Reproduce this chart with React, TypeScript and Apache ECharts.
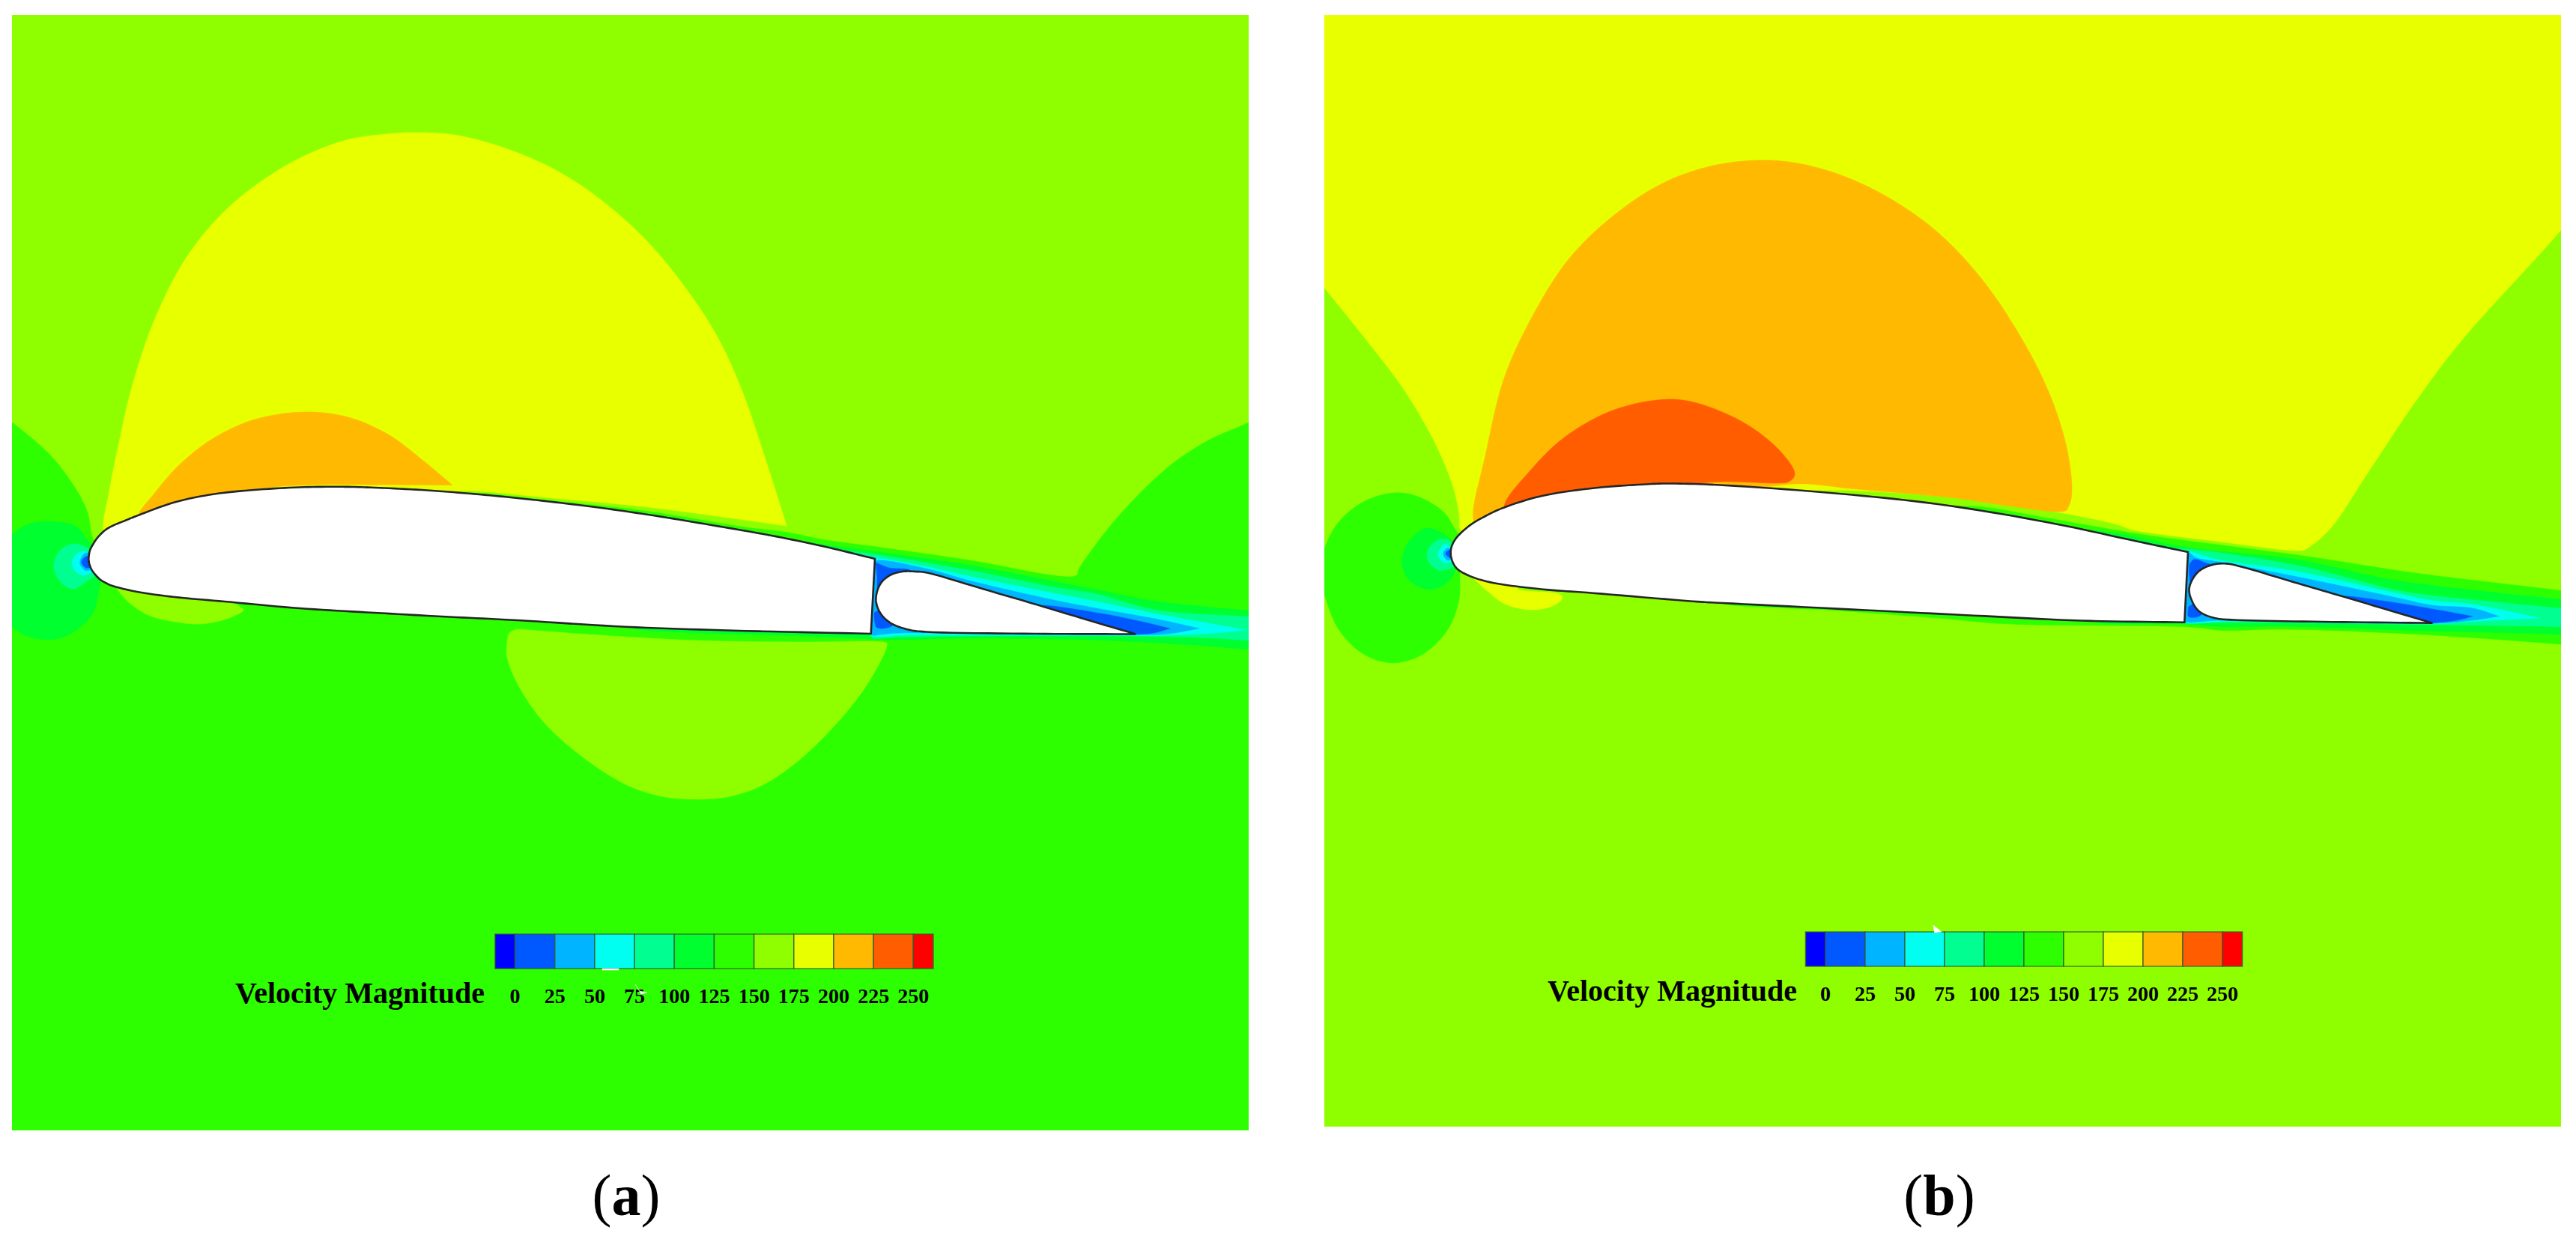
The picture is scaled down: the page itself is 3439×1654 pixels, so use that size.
import React, { useEffect, useRef } from "react";
import * as echarts from "echarts";

// Velocity colour levels (index = contour level)
const levelColors = ["#0000ff", "#0058ff", "#00b4ff", "#00fff0", "#00ff90", "#00ff2f", "#2eff00", "#8fff00", "#e8ff00", "#ffb900", "#ff5d00", "#ff0000"];
const tickValues = [0, 25, 50, 75, 100, 125, 150, 175, 200, 225, 250];
const barEdges = [-12.5, 0, 25, 50, 75, 100, 125, 150, 175, 200, 225, 250, 262.5];
const legendTitle = "Velocity Magnitude";

type P = number[];
// A repeated point marks a sharp corner of the contour.
const fullRectA: P[] = [[-40, -40], [-40, -40], [1720, -40], [1720, -40], [1720, 1560], [1720, 1560], [-40, 1560], [-40, 1560]];
const fullRectB: P[] = [[1720, -40], [1720, -40], [3470, -40], [3470, -40], [3470, 1560], [3470, 1560], [1720, 1560], [1720, 1560]];

// ---------- panel (a) contours ----------
const limeA: P[] = [[135, 735], [135, 735], [124, 717], [117, 683], [100, 650], [67, 607], [16, 563], [-40, 520], [-40, 520], [-40, -40], [-40, -40], [1720, -40], [1720, -40], [1720, 538], [1667, 563.6], [1612, 588], [1557, 625], [1491, 691], [1441, 757], [1436, 768], [1402, 767], [1298, 748], [1174, 730], [1100, 720], [1050, 710], [993, 703], [865, 682], [738, 668], [640, 658], [610, 660], [610, 660]];
const yellowA: P[] = [[150, 722], [150, 722], [138, 709], [146, 655], [158, 595], [176, 517], [205, 430], [248, 345], [305, 277], [380, 222], [455, 189], [515, 179], [560, 177], [612, 181], [675, 198], [740, 226], [800, 265], [860, 318], [912, 380], [958, 450], [992, 525], [1017, 598], [1037, 660], [1050, 702], [1050, 702], [993, 694], [865, 677], [738, 665], [620, 655], [600, 660], [600, 660]];
const orangeA: P[] = [[195, 700], [195, 700], [185, 688], [205, 660], [240, 620], [285, 585], [340, 560], [406, 550], [465, 557], [520, 581], [565, 615], [604, 647.5], [604, 647.5], [500, 647], [420, 647], [350, 652], [300, 665], [300, 665]];
const lowerLobeA: P[] = [[690, 840], [690, 840], [680, 845], [677, 858], [677, 877], [691, 913], [725, 963], [777, 1010], [835, 1047], [883, 1063], [930, 1067], [975, 1063], [1020, 1047], [1070, 1012], [1122, 960], [1160, 910], [1184, 862], [1179, 857], [1074, 857], [930.6, 855], [787, 847], [700, 840.5], [690, 840]];
const noseLobeA: P[] = [[150, 775], [150, 775], [157, 787], [173, 805], [200, 822], [233, 830], [267, 833], [300, 827], [325, 815], [320, 810], [300, 798], [300, 798]];
const ringA5: P[] = [[160, 750], [160, 750], [123, 727], [100, 702], [63, 696], [37, 700], [16, 713], [-20, 740], [-20, 740], [-20, 820], [-20, 820], [16, 837], [33, 848], [63, 854], [93, 847], [123, 820], [131.7, 790], [135, 770], [135, 770]];
const ringA4: P[] = [[135, 750], [135, 750], [116.7, 731.7], [98, 726], [80, 735], [71.7, 755], [80, 776], [98, 786], [120, 773], [135, 765], [135, 765]];
const ringA3: P[] = [[130, 750], [130, 750], [113, 736], [101, 741], [96, 751.7], [101, 763], [113, 768], [130, 760], [130, 760]];
const ringA2: P[] = [[130, 745], [130, 745], [115, 738], [109, 744], [106.7, 751.7], [109, 757], [115, 761.7], [130, 757], [130, 757]];
const ringA1: P[] = [[130, 745], [130, 745], [115, 743], [109, 750], [115, 758], [130, 755], [130, 755]];
const band5A: P[] = [[720, 672], [720, 672], [865, 686], [993, 708], [1100, 727], [1174, 737], [1298, 755], [1402, 775], [1464, 787], [1547, 803], [1720, 820], [1720, 820], [1720, 875], [1720, 875], [1667, 867], [1480, 855], [1300, 852], [1190, 854], [1100, 850], [850, 840], [850, 835], [850, 835]];
const band4A: P[] = [[960, 708], [960, 708], [1100, 732], [1174, 741], [1298, 762], [1402, 783], [1464, 793], [1547, 815], [1667, 823], [1720, 826], [1720, 826], [1720, 858], [1720, 858], [1667, 855], [1600, 851], [1480, 849], [1300, 849], [1190, 851], [1165, 852], [1160, 840], [1160, 840]];
const band3A: P[] = [[1130, 745], [1130, 745], [1168, 744], [1174, 745], [1240, 757], [1298, 770], [1402, 791], [1464, 803], [1547, 820], [1664, 841], [1664, 841], [1610, 846], [1560, 848], [1516, 848.5], [1300, 848], [1210, 848], [1180, 850], [1165, 849], [1150, 840], [1150, 840]];
const band2A: P[] = [[1160, 755], [1160, 755], [1174, 748], [1240, 760], [1298, 776], [1402, 800], [1464, 812], [1547, 827], [1601, 839], [1601, 839], [1560, 846], [1516, 847.5], [1400, 846], [1250, 845], [1200, 845], [1175, 847], [1164, 847], [1155, 820], [1155, 820]];
const band1A: P[] = [[1450, 838], [1450, 838], [1390, 809], [1464, 818], [1520, 829], [1562, 839], [1562, 839], [1540, 845], [1516, 847], [1516, 847]];
const gapTopA: P[] = [[1169, 751], [1169, 751], [1187, 758], [1216, 762], [1216, 780], [1216, 780], [1178, 795], [1178, 795], [1172, 790], [1171, 770]];
const gapLowA: P[] = [[1167, 818], [1167, 818], [1168, 832], [1171, 838], [1185, 838], [1200, 830], [1200, 830], [1180, 810], [1180, 810]];
const mainA: P[] = [[1168, 746], [1168, 746], [1100, 729.5], [1030, 715], [950, 701], [865, 687], [787, 676], [710, 667], [640, 660], [570, 654.5], [500, 651], [457, 649.8], [400, 650.5], [333, 654.5], [283, 660], [233, 670.5], [185, 687.7], [167, 695], [150, 702], [140, 708], [130, 718], [124, 727], [120, 735], [118.3, 747], [120, 755], [124, 763], [133, 773], [142, 778.5], [150, 782], [183, 790], [233, 797], [300, 803], [400, 812], [500, 818], [600, 823.5], [691, 828], [835, 836.7], [978.5, 841.7], [1162.7, 846], [1162.7, 846]];
const flapA: P[] = [[1516, 846.5], [1516, 846.5], [1450, 827], [1380, 806], [1310, 785.5], [1240, 765], [1222, 763], [1205, 763], [1188, 768], [1175, 780], [1169.4, 800], [1175, 818], [1188, 831], [1207, 839], [1236.6, 843.5], [1381.7, 846], [1516, 846.5], [1516, 846.5]];

// ---------- panel (b) contours ----------
const yellowB: P[] = [[1965, 715], [1965, 715], [1950, 707], [1948, 687], [1940, 650], [1920, 600], [1893, 550], [1860, 500], [1768, 384], [1720, 325], [1720, 325], [1720, -40], [1720, -40], [3470, -40], [3470, -40], [3470, 240], [3470, 240], [3419, 307], [3290, 450], [3224, 537], [3158, 636], [3114, 702], [3083, 730], [3068, 735], [2963, 723], [2850, 708], [2826, 700], [2754.5, 685], [2640, 668], [2587, 662], [2480, 655], [2400, 655], [2400, 655]];
const orangeB: P[] = [[1985, 705], [1985, 705], [1967, 693], [1983, 608], [2008, 505], [2047, 420], [2095, 345], [2155, 287], [2219, 245], [2283, 222], [2346, 214], [2400, 218], [2461, 235], [2525, 266], [2589, 312], [2650, 378], [2703, 459], [2737, 528], [2758, 593], [2766, 650], [2762, 675], [2751, 683], [2601.5, 664], [2474, 652.6], [2397, 646], [2300, 660], [2300, 660]];
const redB: P[] = [[2050, 690], [2050, 690], [2008.4, 677.5], [2046.7, 624], [2091, 582], [2150, 549], [2212.5, 534], [2257, 536], [2314.5, 557], [2359, 585.7], [2388, 616], [2396, 633.5], [2388, 643], [2372, 645], [2282.6, 643.8], [2200, 660], [2200, 660]];
const noseLobeB: P[] = [[1960, 765], [1960, 765], [1966.7, 771.7], [1986.7, 790], [2010, 806.7], [2043, 814], [2070, 810], [2085, 800], [2081.7, 793], [2027, 787], [2027, 780], [2027, 780]];
const ringB6: P[] = [[1960, 735], [1960, 735], [1943, 707], [1926.7, 683], [1893, 663], [1860, 658], [1820, 670], [1787, 697], [1768, 733], [1763, 765], [1768, 793], [1787, 840], [1820, 873], [1860, 885], [1900, 873], [1933, 840], [1948, 800], [1950, 760], [1960, 745], [1960, 745]];
const ringB5: P[] = [[1950, 740], [1950, 740], [1936.7, 720], [1906.7, 705], [1883, 720], [1871.7, 747], [1880, 773], [1906.7, 787], [1933, 777], [1947, 753], [1950, 750], [1950, 750]];
const ringB4: P[] = [[1945, 740], [1945, 740], [1936.7, 723], [1923, 720], [1910, 728], [1905, 741.7], [1910, 754], [1923, 761.7], [1940, 756.7], [1945, 750], [1945, 750]];
const ringB3: P[] = [[1945, 740], [1945, 740], [1930, 726.7], [1923, 732], [1920, 740], [1923, 747], [1930, 751.7], [1945, 745], [1945, 745]];
const ringB2: P[] = [[1945, 738], [1945, 738], [1933, 731.7], [1926.7, 739], [1933, 748], [1945, 742], [1945, 742]];
const ringB1: P[] = [[1945, 738], [1945, 738], [1936, 734], [1930, 739], [1936.7, 745], [1945, 742], [1945, 742]];
const band6B: P[] = [[2587, 678], [2587, 678], [2640, 676], [2730, 691], [2850, 712], [2921, 722], [3075, 742], [3225, 765], [3416, 788], [3470, 795], [3470, 795], [3470, 866], [3470, 866], [3416, 860], [3225.7, 846.7], [3050, 840], [2970, 841.7], [2916, 836.7], [2683, 833], [2587, 825], [2450, 815], [2300, 806], [2300, 800], [2300, 800]];
const band5B: P[] = [[2730, 702], [2730, 702], [2826, 712], [2921, 731], [3067, 747], [3200, 775], [3416, 800], [3470, 806], [3470, 806], [3470, 852], [3470, 852], [3416, 847], [3225.7, 841.7], [3050, 836], [2970, 836.7], [2916, 833], [2800, 831], [2800, 825], [2800, 825]];
const band4B: P[] = [[2880, 735], [2880, 735], [2921, 733], [3067, 755], [3200, 788], [3247, 795], [3416, 812], [3470, 818], [3470, 818], [3470, 840], [3470, 840], [3416, 836.7], [3247, 834], [3100, 832], [2960, 831], [2916, 832], [2900, 825], [2900, 825]];
const band3B: P[] = [[2900, 740], [2900, 740], [2921, 736], [2960, 747], [3067, 763], [3200, 792], [3247, 801.7], [3300, 806.7], [3391, 825], [3391, 825], [3300, 829.5], [3247, 832.7], [3100, 831], [2990, 829], [2916, 831], [2900, 820], [2900, 820]];
const band2B: P[] = [[2905, 745], [2905, 745], [2921, 738], [2933, 745], [2966.7, 751], [3067, 770], [3200, 798], [3247, 808], [3300, 811.7], [3336.5, 822.7], [3336.5, 822.7], [3300, 828], [3247, 832], [3000, 829], [2960, 828], [2917, 830], [2905, 820], [2905, 820]];
const band1B: P[] = [[3140, 803], [3140, 803], [3130, 796], [3200, 805], [3247, 813], [3300.8, 822.7], [3300.8, 822.7], [3280, 828], [3247, 832], [3247, 832], [3180, 820], [3180, 820]];
const gapTopB: P[] = [[2923, 753], [2923, 753], [2930, 746.7], [2950, 753], [2965, 753], [2960, 760], [2960, 760], [2935, 775], [2935, 775], [2925, 778], [2922.5, 765]];
const gapLowB: P[] = [[2921.7, 810], [2921.7, 810], [2921.7, 823], [2935, 823], [2945, 815], [2945, 815], [2930, 805], [2930, 805]];
const mainB: P[] = [[2921, 737], [2921, 737], [2850, 722], [2730.6, 696.7], [2587, 673], [2443.5, 658], [2300, 647.7], [2231, 645.5], [2193, 646.7], [2126.7, 651.7], [2060, 661.7], [2010, 676.7], [1983, 689], [1960, 703], [1941.7, 721.7], [1936.7, 738.3], [1943, 756.7], [1960, 768], [1993, 778], [2060, 786.7], [2126.7, 791.7], [2260, 802.7], [2300, 805], [2491, 814.5], [2635, 821.7], [2778.5, 828.5], [2916.3, 830.7], [2916.3, 830.7]];
const flapB: P[] = [[3247.4, 831.7], [3247.4, 831.7], [3180, 811.8], [3120, 794], [3056, 775.3], [2993, 756.7], [2970, 752.3], [2950, 755], [2933, 765], [2922.7, 785], [2926.7, 803], [2936.7, 816.7], [2956.7, 825], [2986.7, 827.7], [3100, 830], [3247.4, 831.7], [3247.4, 831.7]];

const AIRFOIL = -1;
const WHITE_MARK = -2;
const contoursA: [number, P[]][] = [[6, fullRectA], [7, limeA], [8, yellowA], [9, orangeA], [7, lowerLobeA], [7, noseLobeA], [5, ringA5], [4, ringA4], [3, ringA3], [2, ringA2], [1, ringA1], [5, band5A], [4, band4A], [3, band3A], [2, band2A], [1, band1A], [1, gapTopA], [1, gapLowA], [AIRFOIL, mainA], [AIRFOIL, flapA]];
const contoursB: [number, P[]][] = [[7, fullRectB], [8, yellowB], [9, orangeB], [10, redB], [8, noseLobeB], [6, ringB6], [5, ringB5], [4, ringB4], [3, ringB3], [2, ringB2], [1, ringB1], [6, band6B], [5, band5B], [4, band4B], [3, band3B], [2, band2B], [1, band1B], [1, gapTopB], [1, gapLowB], [AIRFOIL, mainB], [AIRFOIL, flapB]];
const marksA: [number, P[]][] = [[WHITE_MARK, [[804, 1293], [804, 1293], [826, 1293], [826, 1293], [826, 1295], [826, 1295], [804, 1295], [804, 1295]]], [WHITE_MARK, [[848, 1314], [848, 1314], [854, 1323], [854, 1323], [864, 1325], [864, 1325], [856, 1327], [856, 1327]]]];
const marksB: [number, P[]][] = [[WHITE_MARK, [[2581, 1235], [2581, 1235], [2592, 1244], [2592, 1244], [2582.5, 1245], [2582.5, 1245]]]];

// Draws a contour outline smoothly between its knots (repeated knots stay sharp).
const KNOT_ALPHA = 0.3;
function smoothOutline(pts: number[][]): number[][] {
  const runs: number[][][] = [];
  let run: number[][] = [];
  pts.forEach((p, i) => {
    if (i > 0 && p[0] === pts[i - 1][0] && p[1] === pts[i - 1][1]) {
      if (run.length) runs.push(run);
      run = [p];
    } else run.push(p);
  });
  if (run.length) runs.push(run);
  const out: number[][] = [];
  const d = (a: number[], b: number[]) => Math.max(1e-3, Math.pow(Math.hypot(a[0] - b[0], a[1] - b[1]), KNOT_ALPHA));
  const mix = (a: number[], b: number[], ta: number, tb: number, t: number) => [
    (a[0] * (tb - t) + b[0] * (t - ta)) / (tb - ta),
    (a[1] * (tb - t) + b[1] * (t - ta)) / (tb - ta),
  ];
  for (const r of runs) {
    if (r.length < 3) { out.push(...r); continue; }
    for (let i = 0; i < r.length - 1; i++) {
      const p1 = r[i], p2 = r[i + 1];
      const p0 = i > 0 ? r[i - 1] : [2 * p1[0] - p2[0], 2 * p1[1] - p2[1]];
      const p3 = i < r.length - 2 ? r[i + 2] : [2 * p2[0] - p1[0], 2 * p2[1] - p1[1]];
      const t0 = 0, t1 = t0 + d(p0, p1), t2 = t1 + d(p1, p2), t3 = t2 + d(p2, p3);
      for (let k = 0; k < 10; k++) {
        const t = t1 + ((t2 - t1) * k) / 10;
        const a1 = mix(p0, p1, t0, t1, t), a2 = mix(p1, p2, t1, t2, t), a3 = mix(p2, p3, t2, t3, t);
        const b1 = mix(a1, a2, t0, t2, t), b2 = mix(a2, a3, t1, t3, t);
        out.push(mix(b1, b2, t1, t2, t));
      }
    }
    out.push(r[r.length - 1]);
  }
  return out;
}

function contourSeries(list: [number, P[]][], axis: number, z: number) {
  return {
    type: "custom",
    xAxisIndex: axis,
    yAxisIndex: axis,
    clip: true,
    silent: true,
    z,
    data: list.map((_, i) => [list[i][1][0][0], list[i][1][0][1]]),
    renderItem: (params: any, api: any) => {
      const [level, pts] = list[params.dataIndex];
      const pixels = smoothOutline(pts).map((p) => api.coord(p));
      const isFoil = level === AIRFOIL;
      const fill = level < 0 ? "#ffffff" : levelColors[level];
      return {
        type: "polygon",
        shape: { points: pixels },
        style: { fill, stroke: isFoil ? "#262626" : fill, lineWidth: isFoil ? 2.6 : 0.5, lineJoin: "miter" },
      };
    },
  };
}

function colorbarSeries(axis: number) {
  return {
    type: "custom",
    xAxisIndex: axis,
    yAxisIndex: axis,
    silent: true,
    clip: false,
    z: 2,
    data: levelColors.map((_, i) => [barEdges[i], barEdges[i + 1]]),
    renderItem: (params: any, api: any) => {
      const a = api.coord([api.value(0), 0]);
      const b = api.coord([api.value(1), 1]);
      return {
        type: "rect",
        shape: { x: a[0], y: b[1], width: b[0] - a[0], height: a[1] - b[1] },
        style: { fill: levelColors[params.dataIndex], stroke: "rgba(50,90,50,0.75)", lineWidth: 1.6 },
      };
    },
  };
}

const legendXAxis = (gridIndex: number) => ({
  type: "value",
  gridIndex,
  min: -25,
  max: 275,
  interval: 25,
  z: 10,
  axisLine: { show: false },
  axisTick: { show: false },
  splitLine: { show: false },
  axisLabel: {
    show: true,
    margin: 22,
    color: "#000",
    fontFamily: "Liberation Serif",
    fontWeight: "bold",
    fontSize: 28,
    formatter: (v: number) => (tickValues.includes(v) ? String(v) : ""),
  },
});
const hiddenX = (gridIndex: number, min: number, max: number) => ({ type: "value", gridIndex, min, max, show: false });
const hiddenY = (gridIndex: number, min: number, max: number, inverse: boolean) => ({ type: "value", gridIndex, min, max, inverse, show: false });

const vmStyle = { fontFamily: "Liberation Serif", fontWeight: "bold", fontSize: 40, color: "#000" };
const capRich = {
  fontFamily: "Liberation Serif",
  fontSize: 78,
  color: "#000",
  rich: {
    r: { fontFamily: "Liberation Serif", fontSize: 78, fontWeight: "normal", color: "#000" },
    b: { fontFamily: "Liberation Serif", fontSize: 78, fontWeight: "bold", color: "#000" },
  },
};

export default function App() {
  const ref = useRef<HTMLDivElement>(null);
  useEffect(() => {
    const chart = echarts.init(ref.current!, undefined, { renderer: "svg" });
    chart.setOption({
      animation: false,
      backgroundColor: "#ffffff",
      title: [
        { text: legendTitle, left: 314, top: 1305, padding: 0, textStyle: vmStyle },
        { text: legendTitle, left: 2066, top: 1302, padding: 0, textStyle: vmStyle },
        { text: "{r|(}{b|a}{r|)}", left: 836, top: 1556, padding: 0, textAlign: "center", textStyle: capRich },
        { text: "{r|(}{b|b}{r|)}", left: 2589, top: 1556, padding: 0, textAlign: "center", textStyle: capRich },
      ],
      grid: [
        { left: 16, top: 20, width: 1651, height: 1489 },
        { left: 1768, top: 20, width: 1651, height: 1484 },
        { left: 634.4, top: 1247, width: 638.1, height: 46 },
        { left: 2384, top: 1244, width: 636, height: 46 },
      ],
      xAxis: [hiddenX(0, 16, 1667), hiddenX(1, 1768, 3419), legendXAxis(2), legendXAxis(3)],
      yAxis: [hiddenY(0, 20, 1509, true), hiddenY(1, 20, 1504, true), hiddenY(2, 0, 1, false), hiddenY(3, 0, 1, false)],
      series: [
        contourSeries(contoursA, 0, 1),
        contourSeries(contoursB, 1, 1),
        colorbarSeries(2),
        colorbarSeries(3),
        contourSeries(marksA, 0, 20),
        contourSeries(marksB, 1, 20),
      ],
    });
    return () => chart.dispose();
  }, []);
  return <div ref={ref} style={{ position: "fixed", left: 0, top: 0, width: 3439, height: 1654 }} />;
}
